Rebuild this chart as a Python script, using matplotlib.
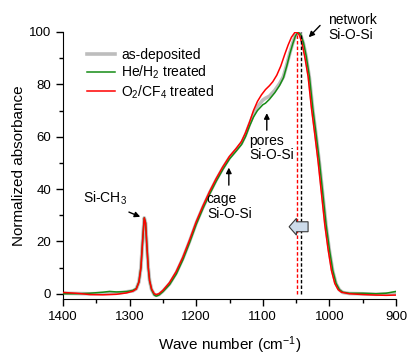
import matplotlib
matplotlib.use("Agg")
import matplotlib.pyplot as plt
import matplotlib.patches as mpatches
from matplotlib.ticker import MultipleLocator

plt.rcParams['font.family'] = ['Liberation Sans', 'DejaVu Sans']
plt.rcParams['mathtext.fontset'] = 'custom'
plt.rcParams['mathtext.rm'] = 'Liberation Sans'
plt.rcParams['mathtext.it'] = 'Liberation Sans'

#%% data

# He/H2 treated (green)
wn_green = [1400, 1380, 1360, 1340, 1330, 1320, 1305, 1295, 1290, 1286, 1283, 1280, 1278, 1276,
            1274, 1272, 1270, 1267, 1263, 1260, 1256, 1250, 1240, 1230, 1220, 1210, 1200, 1190,
            1180, 1170, 1160, 1150, 1140, 1132, 1126, 1120, 1114, 1108, 1100, 1096, 1090, 1082,
            1075, 1069, 1064, 1059, 1055, 1051, 1047, 1043, 1039, 1035, 1030, 1025, 1020, 1015,
            1010, 1005, 1000, 995, 990, 985, 980, 970, 950, 930, 915, 900]
ab_green = [0.0, 0.0, 0.2, 0.6, 0.9, 0.7, 0.8, 1.3, 2.0, 4.5, 10, 22, 29, 27,
            18, 10, 5, 1.5, -0.5, -0.9, -0.5, 0.8, 3.5, 7.5, 13, 19.5, 26.5, 32.5,
            38, 43, 47.5, 51.5, 54.5, 57, 60, 64, 67.5, 70, 72.2, 72.8, 74.3, 76.8,
            79.5, 82.5, 87, 92, 95.5, 98.5, 100, 99, 96, 91, 83, 71, 61, 50.5,
            38.5, 26.5, 17, 9, 4, 1.6, 0.6, 0.2, 0.2, 0.0, 0.2, 0.9]

# as-deposited (grey)
wn_grey = [1400, 1360, 1320, 1295, 1290, 1286, 1283, 1280, 1278, 1276, 1274, 1272, 1270, 1267,
           1263, 1260, 1256, 1250, 1240, 1230, 1220, 1210, 1200, 1190, 1180, 1170, 1160, 1150,
           1140, 1132, 1126, 1120, 1114, 1108, 1100, 1096, 1090, 1082, 1075, 1069, 1064, 1059,
           1055, 1051, 1047, 1043, 1039, 1035, 1030, 1025, 1020, 1015, 1010, 1005, 1000, 995,
           990, 985, 980, 970, 950, 930, 900]
ab_grey = [0.2, 0.0, 0.2, 1.1, 1.9, 4.5, 10, 22, 29, 27, 18, 10, 5, 1.6,
           -0.3, -0.6, -0.3, 1.0, 3.8, 8.0, 13.5, 20, 27, 33, 38.5, 43.5, 48, 52,
           55, 57.5, 60.7, 64.8, 68.5, 71.5, 74, 74.7, 75.5, 77.7, 80.2, 83, 87.5, 92.3,
           95.8, 98.7, 100, 98.8, 95.7, 90.7, 82.5, 70.5, 60.5, 50, 38, 26, 16.5, 8.7,
           3.8, 1.5, 0.5, 0.1, 0.0, -0.2, 0.1]

# O2/CF4 treated (red)
wn_red = [1400, 1380, 1360, 1340, 1320, 1305, 1295, 1290, 1286, 1283, 1280, 1278, 1276, 1274,
          1272, 1270, 1267, 1263, 1260, 1256, 1250, 1240, 1230, 1220, 1210, 1200, 1190, 1180,
          1170, 1160, 1150, 1140, 1132, 1126, 1120, 1114, 1108, 1102, 1096, 1090, 1085, 1079,
          1073, 1067, 1062, 1057, 1052, 1049, 1045, 1041, 1037, 1032, 1027, 1022, 1017, 1012,
          1007, 1002, 997, 992, 987, 982, 970, 950, 930, 915, 900]
ab_red = [0.5, 0.2, -0.3, -0.4, -0.2, 0.3, 1.0, 1.8, 4.5, 10, 22, 29, 27, 18,
          10, 5, 1.8, 0.0, -0.3, 0.0, 1.3, 4.3, 8.5, 14, 20.5, 27.5, 33.5, 39,
          44, 48.5, 52.5, 55.5, 58.2, 61.5, 65.5, 70, 73.5, 76, 78, 79.5, 81, 83.5,
          87, 91.5, 95, 98, 99.8, 100, 98.8, 95.5, 90.5, 83, 71, 61, 50.5, 38.5,
          26.5, 17, 9, 4, 1.6, 0.6, 0.0, -0.3, -0.5, -0.6, -0.5]

peak_red = 1048
peak_black = 1042

labels = ['as-deposited', 'He/H$_2$ treated', 'O$_2$/CF$_4$ treated']

#%% plot

fig = plt.figure(figsize=(4.07, 3.56), dpi=100)
ax = fig.add_axes([63/407, 1-299/356, 333/407, 267/356])

ax.plot(wn_grey, ab_grey, color='#bdbdbd', lw=2.6, label=labels[0], zorder=2)
ax.plot(wn_green, ab_green, color='#158c15', lw=1.1, label=labels[1], zorder=3)
ax.plot(wn_red, ab_red, color='#ff0000', lw=1.1, label=labels[2], zorder=4)

ax.vlines(peak_red, 0, 100, colors='#ff0000', linestyles=(0, (2.5, 1.5)), lw=1, zorder=5)
ax.vlines(peak_black, 0, 100, colors='black', linestyles=(0, (2.5, 1.5)), lw=1, zorder=5)

# block arrow pointing to higher wave number
arr = mpatches.FancyArrow(1032, 25.6, 17.5, 0, width=3.8, head_width=6.4, head_length=11,
                          length_includes_head=False, facecolor='#cddbea', edgecolor='#3a3a3a',
                          lw=0.8, zorder=6)
ax.add_patch(arr)

ax.set_xlim(1400, 900)
ax.set_ylim(-2, 100)
ax.xaxis.set_major_locator(MultipleLocator(100))
ax.xaxis.set_minor_locator(MultipleLocator(50))
ax.yaxis.set_major_locator(MultipleLocator(20))
ax.yaxis.set_minor_locator(MultipleLocator(10))
ax.tick_params(which='major', length=5, width=1, labelsize=9.5, direction='out')
ax.tick_params(which='minor', length=3, width=1, direction='out')
for s in ['top', 'right']:
    ax.spines[s].set_visible(False)

ax.set_xlabel('Wave number (cm$^{-1}$)', fontsize=11, labelpad=8)
ax.set_ylabel('Normalized absorbance', fontsize=11, labelpad=2)

leg = ax.legend(loc='upper left', bbox_to_anchor=(0.055, 0.962), frameon=False, fontsize=10,
                handlelength=2.05, handletextpad=0.4, labelspacing=0.15, borderaxespad=0)

# annotations
ap = dict(arrowstyle='-|>', color='black', lw=1, mutation_scale=8, shrinkA=0, shrinkB=0)
ax.annotate('', xy=(1031, 98), xytext=(1014, 102.5), arrowprops=ap, annotation_clip=False)
ax.text(1002, 101.8, 'network\nSi-O-Si', fontsize=10, ha='left', va='center',
        linespacing=1.05, clip_on=False)
ax.annotate('', xy=(1094, 69), xytext=(1094, 62.5), arrowprops=ap)
ax.text(1120, 55.7, 'pores\nSi-O-Si', fontsize=10, ha='left', va='center', linespacing=1.05)
ax.annotate('', xy=(1151, 48.2), xytext=(1151, 41.5), arrowprops=ap)
ax.text(1184, 33.4, 'cage\nSi-O-Si', fontsize=10, ha='left', va='center', linespacing=1.05)
ax.annotate('', xy=(1284, 29.4), xytext=(1301, 31.2), arrowprops=ap)
ax.text(1370, 36.3, 'Si-CH$_3$', fontsize=10, ha='left', va='center')

fig.savefig('out.png', dpi=100)
